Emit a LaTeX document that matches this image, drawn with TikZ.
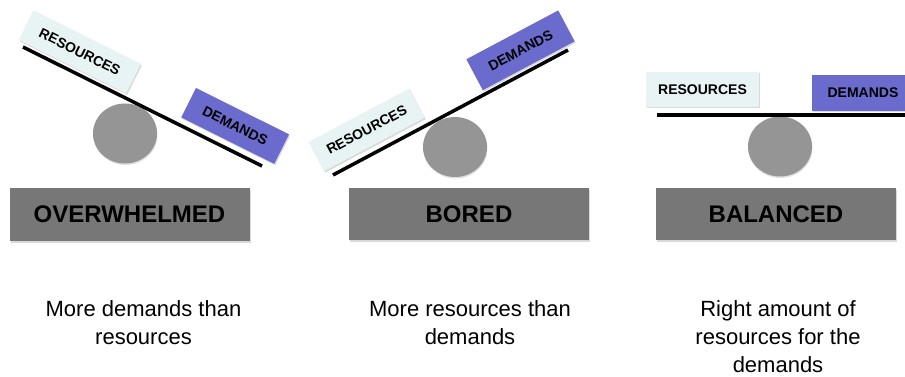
\documentclass[tikz,border=0pt]{standalone}
\usepackage{fontspec}
\setmainfont{Liberation Sans}
\usetikzlibrary{shadows,shapes.geometric}
\definecolor{resfill}{HTML}{E8F3F3}
\definecolor{demfill}{HTML}{6B6BCE}
\definecolor{labfill}{HTML}{777777}
\definecolor{pivotfill}{HTML}{959595}
\begin{document}
\begin{tikzpicture}[x=1pt,y=-1pt,
  beam/.style={line width=3.5pt, black},
  pivotball/.style={ellipse, fill=pivotfill, minimum width=64pt, minimum height=60pt, inner sep=0pt,
    drop shadow={shadow xshift=0.5pt, shadow yshift=-1.5pt, opacity=0.25}},
  weightbox/.style={inner sep=0pt, minimum height=33pt, font=\bfseries\fontsize{14}{14}\selectfont,
    drop shadow={shadow xshift=1pt, shadow yshift=-1.5pt, opacity=0.3}},
  resbox/.style={weightbox, fill=resfill, minimum width=120pt},
  dembox/.style={weightbox, fill=demfill, minimum width=104pt},
  statebox/.style={fill=labfill, inner sep=0pt, minimum width=240pt, minimum height=52.5pt,
    font=\bfseries\fontsize{24}{24}\selectfont,
    drop shadow={shadow xshift=1pt, shadow yshift=-2pt, opacity=0.3}},
  caption/.style={font=\fontsize{22}{28}\selectfont, align=center, anchor=north, inner sep=0pt}
]
\useasboundingbox (0,0) rectangle (905,377);

% ---------- panel 1: overwhelmed ----------
\node[pivotball] (p1) at (125,133.5) {};
\coordinate (b1s) at (23,47);
\coordinate (b1e) at (262,166);
\draw[beam] (b1s) -- (b1e);
\node[resbox, rotate=-26.5] (r1) at (79.8,51.8) {RESOURCES};
\node[dembox, rotate=-26.5] (d1) at (235.1,125.9) {DEMANDS};
\node[statebox] (s1) at (129.5,214.5) {OVERWHELMED};
\node[caption] (c1) at (143.5,300.5) {More demands than\\resources};

% ---------- panel 2: bored ----------
\node[pivotball] (p2) at (455,147) {};
\coordinate (b2s) at (333,175);
\coordinate (b2e) at (568,50);
\draw[beam] (b2s) -- (b2e);
\node[resbox, rotate=28, minimum width=114pt] (r2) at (366.7,129.8) {RESOURCES};
\node[dembox, rotate=28, minimum height=35pt] (d2) at (520.5,50.3) {DEMANDS};
\node[statebox] (s2) at (469,214) {BORED};
\node[caption] (c2) at (470,300.5) {More resources than\\demands};

% ---------- panel 3: balanced ----------
\node[pivotball] (p3) at (780,146.5) {};
\coordinate (b3s) at (657,115);
\coordinate (b3e) at (905,115);
\draw[beam] (b3s) -- (b3e);
\node[resbox, minimum width=113pt, minimum height=35pt] (r3) at (702.5,89.5) {RESOURCES};
\node[dembox, minimum width=102pt, minimum height=36pt] (d3) at (863,93) {DEMANDS};
\node[statebox] (s3) at (776,214) {BALANCED};
\node[caption] (c3) at (778,300.5) {Right amount of\\resources for the\\demands};
\end{tikzpicture}
\end{document}
